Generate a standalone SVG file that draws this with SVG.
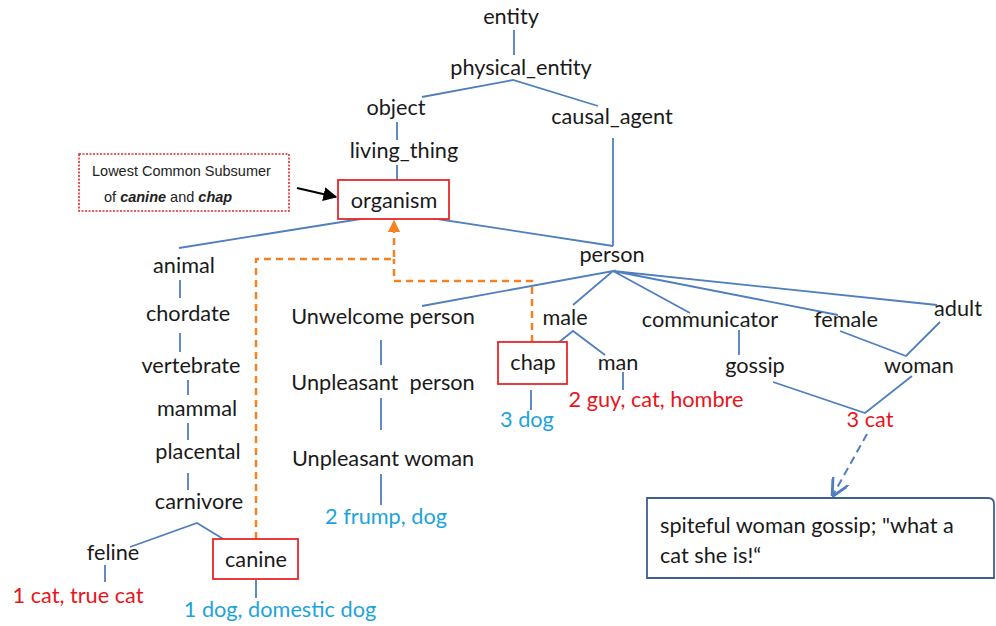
<svg xmlns="http://www.w3.org/2000/svg" width="996" height="626" viewBox="0 0 996 626">
<defs>
<style>
.t{font-family:Lato,"Open Sans","Liberation Sans",sans-serif;font-size:21.7px;fill:#1a1a1a;text-anchor:middle}
.r{fill:#e8141b}
.c{fill:#1da3dc}
.e{stroke:#4f7fbf;stroke-width:1.8;fill:none}
.o{stroke:#f58220;stroke-width:2.5;fill:none;stroke-dasharray:7,5}
.box{fill:#fff;stroke:#e8262b;stroke-width:1.8}
.lcs{font-family:"Liberation Sans",Arial,sans-serif;font-size:14.5px;fill:#222}
</style>
<marker id="oa" viewBox="0 0 10 10" refX="5" refY="5" markerWidth="5" markerHeight="5" orient="auto"><path d="M0,0 L10,5 L0,10 z" fill="#f58220"/></marker>
<marker id="ba" viewBox="0 0 10 10" refX="9" refY="5" markerWidth="7" markerHeight="7" orient="auto"><path d="M0,0 L10,5 L0,10 z" fill="#000"/></marker>
<marker id="da" viewBox="0 0 10 10" refX="9" refY="5" markerWidth="9" markerHeight="9" orient="auto"><path d="M0,0 L10,5 L0,10" fill="none" stroke="#4f7fbf" stroke-width="1.6"/></marker>
</defs>
<rect width="996" height="626" fill="#fff"/>
<g id="connectors">
<path class="e" d="M514,30 V55"/>
<path class="e" d="M422,97 L513,80 L598,106"/>
<path class="e" d="M397,122 V140"/>
<path class="e" d="M397,165 V180"/>
<path class="e" d="M613,138 V246"/>
<path class="e" d="M179,248 L398,213 L613,246"/>
<path class="e" d="M422,306 L613,271 L573,305 M613,271 L690,313 M613,271 L838,315 M613,271 L937,305"/>
<path class="e" d="M180,280 V298 M180,333 V352 M188,380 V395 M188,423 V440 M188,473 V490"/>
<path class="e" d="M130,547 L197,523 L238,548"/>
<path class="e" d="M105,565 V582"/>
<path class="e" d="M256,580 V598"/>
<path class="e" d="M381,340 V365 M381,398 V430 M381,474 V505"/>
<path class="e" d="M543,355 L573,331 L605,355"/>
<path class="e" d="M531,390 V410"/>
<path class="e" d="M623,372 V390"/>
<path class="e" d="M739,330 V355"/>
<path class="e" d="M773,382 L865,413 L912,376"/>
<path class="e" d="M840,331 L906,356 L940,322"/>
<path d="M867,434 L833,495" stroke="#4f7fbf" stroke-width="2" fill="none" stroke-dasharray="8,5" marker-end="url(#da)"/>
<path d="M297,188 L336,197" stroke="#000" stroke-width="2" fill="none" marker-end="url(#ba)"/>
<path class="o" d="M256,539 V259 H394 V226" marker-end="url(#oa)"/>
<path class="o" d="M532,342 V281 H394 V259"/>
</g>
<g id="lcs-note">
<rect x="79" y="154" width="210" height="57" fill="#fff" stroke="#e8262b" stroke-width="1.6" stroke-dasharray="2,1.5"/>
<text class="lcs" x="92" y="176">Lowest Common Subsumer</text>
<text class="lcs" x="104" y="202">of <tspan font-weight="bold" font-style="italic">canine</tspan> and <tspan font-weight="bold" font-style="italic">chap</tspan></text>
</g>
<g id="entity"><text class="t" x="511" y="24">entity</text></g>
<g id="physical_entity"><text class="t" x="521" y="75">physical_entity</text></g>
<g id="object"><text class="t" x="396" y="115">object</text></g>
<g id="causal_agent"><text class="t" x="612" y="124">causal_agent</text></g>
<g id="living_thing"><text class="t" x="404" y="158">living_thing</text></g>
<g id="organism"><rect class="box" x="338" y="180" width="111" height="39" stroke="#e87070"/><text class="t" x="394" y="208">organism</text></g>
<g id="person"><text class="t" x="612" y="262">person</text></g>
<g id="animal"><text class="t" x="184" y="273">animal</text></g>
<g id="chordate"><text class="t" x="188" y="321">chordate</text></g>
<g id="vertebrate"><text class="t" x="191" y="373">vertebrate</text></g>
<g id="mammal"><text class="t" x="197" y="416">mammal</text></g>
<g id="placental"><text class="t" x="198" y="459">placental</text></g>
<g id="carnivore"><text class="t" x="199" y="509">carnivore</text></g>
<g id="feline"><text class="t" x="113" y="560">feline</text></g>
<g id="canine"><rect class="box" x="213" y="539" width="85" height="40"/><text class="t" x="256" y="567">canine</text></g>
<g id="cat1"><text class="t r" x="78" y="603">1 cat, true cat</text></g>
<g id="dog1"><text class="t c" x="280" y="617">1 dog, domestic dog</text></g>
<g id="unwelcome"><text class="t" x="383" y="324">Unwelcome person</text></g>
<g id="unpleasant_person"><text class="t" x="383" y="390" xml:space="preserve">Unpleasant  person</text></g>
<g id="unpleasant_woman"><text class="t" x="383" y="466">Unpleasant woman</text></g>
<g id="frump"><text class="t c" x="386" y="524">2 frump, dog</text></g>
<g id="male"><text class="t" x="565" y="325">male</text></g>
<g id="chap"><rect class="box" x="498" y="342" width="69" height="42"/><text class="t" x="533" y="370">chap</text></g>
<g id="dog3"><text class="t c" x="527" y="427">3 dog</text></g>
<g id="man"><text class="t" x="618" y="370">man</text></g>
<g id="guy2"><text class="t r" x="656" y="407">2 guy, cat, hombre</text></g>
<g id="communicator"><text class="t" x="710" y="327">communicator</text></g>
<g id="gossip"><text class="t" x="755" y="373">gossip</text></g>
<g id="female"><text class="t" x="846" y="327">female</text></g>
<g id="adult"><text class="t" x="958" y="316">adult</text></g>
<g id="woman"><text class="t" x="919" y="373">woman</text></g>
<g id="cat3"><text class="t r" x="870" y="427">3 cat</text></g>
<g id="callout">
<path d="M647,498 H988 Q994,498 994,504 V578 H647 Z" fill="#fff" stroke="#3e5f8f" stroke-width="1.8"/>
<text class="t" x="660" y="533" style="text-anchor:start">spiteful woman gossip; "what a</text>
<text class="t" x="660" y="563" style="text-anchor:start">cat she is!“</text>
</g>
</svg>
